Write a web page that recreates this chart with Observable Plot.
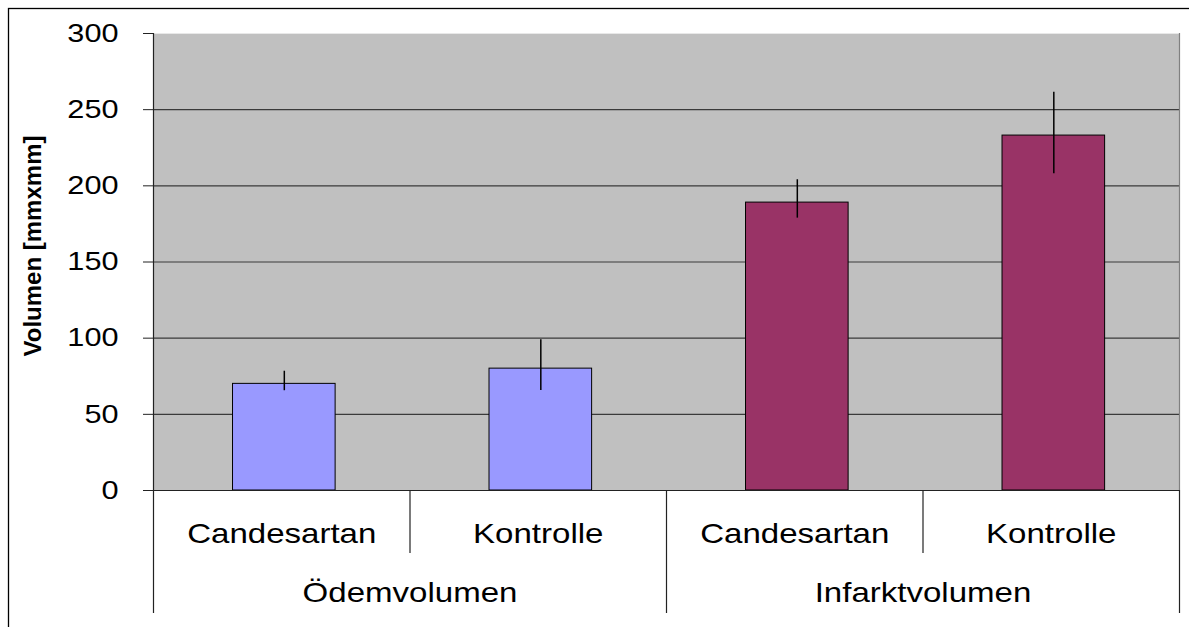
<!DOCTYPE html>
<html>
<head>
<meta charset="utf-8">
<script src="https://cdn.jsdelivr.net/npm/d3@7"></script>
<script src="https://cdn.jsdelivr.net/npm/@observablehq/plot@0.6"></script>
<style>
  html, body { margin: 0; padding: 0; background: white; overflow: hidden; }
</style>
</head>
<body>
<script>
// ---- data ----
const groups = ["Ödemvolumen", "Ödemvolumen", "Infarktvolumen", "Infarktvolumen"];
const treatments = ["Candesartan", "Kontrolle", "Candesartan", "Kontrolle"];
const values = [70, 80, 189, 233];
const errLow = [65.5, 65.7, 178.8, 208];
const errHigh = [78.3, 99, 204, 261.5];
const groupNames = ["Ödemvolumen", "Infarktvolumen"];
const yTicks = [0, 50, 100, 150, 200, 250, 300];
const colors = {"Ödemvolumen": "#9999FF", "Infarktvolumen": "#993366"};
const yLabel = "Volumen [mmxmm]";

const rows = values.map((v, i) => ({
  i, group: groups[i], treatment: treatments[i], value: v, low: errLow[i], high: errHigh[i]
}));

const plot = Plot.plot({
  width: 1189,
  height: 627,
  marginLeft: 153,
  marginRight: 10,
  marginTop: 33,
  marginBottom: 137,
  style: {fontFamily: "'Liberation Sans', Arial, sans-serif", background: "white", color: "black"},
  x: {domain: [0, 4], axis: null},
  y: {domain: [0, 300], axis: null},
  marks: [
    // outer chart border
    Plot.frame({stroke: "#000", strokeWidth: 1.3, insetLeft: -145, insetTop: -25, insetRight: -30, insetBottom: -160}),
    // plot area
    Plot.frame({fill: "#C0C0C0"}),
    Plot.ruleY(yTicks.filter(d => d > 0 && d < 300), {stroke: "#3a3a3a", strokeWidth: 1.2}),
    Plot.ruleY([300], {stroke: "#e8e8e8", strokeWidth: 1.2}),
    Plot.ruleX([4], {stroke: "#808080", strokeWidth: 1.2}),
    // bars
    Plot.rectY(rows, {
      x1: d => d.i + 0.31, x2: d => d.i + 0.71, y1: 0, y2: "value",
      fill: d => colors[d.group], stroke: "#000", strokeWidth: 1
    }),
    // error bars
    Plot.ruleX(rows, {x: d => d.i + 0.51, y1: "low", y2: "high", stroke: "#000", strokeWidth: 1.5}),
    // y axis
    Plot.axisY({ticks: yTicks, tickSize: 10, tickPadding: 25, fontSize: 26, label: null, stroke: "#222"}),
    Plot.ruleX([0], {stroke: "#222", strokeWidth: 1.2, insetBottom: -123}),
    Plot.ruleY([0], {stroke: "#222", strokeWidth: 1.2, insetLeft: -10}),
    // category table dividers
    Plot.ruleX([2, 4], {stroke: "#222", strokeWidth: 1.2, insetTop: 457, insetBottom: -123}),
    Plot.ruleX([1, 3], {stroke: "#222", strokeWidth: 1.2, insetTop: 457, insetBottom: -63}),
    // category labels
    Plot.text(rows, {x: d => d.i + 0.5, text: "treatment", frameAnchor: "bottom", lineAnchor: "middle", textAnchor: "middle", dy: 44, fontSize: 28, fill: "#000"}),
    Plot.text(groupNames, {x: (d, i) => 2 * i + 1, text: d => d, frameAnchor: "bottom", lineAnchor: "middle", textAnchor: "middle", dy: 103, fontSize: 28, fill: "#000"}),
    // y label
    Plot.text([yLabel], {frameAnchor: "left", textAnchor: "middle", lineAnchor: "middle", dx: -120, dy: -16, rotate: -90, fontWeight: "bold", fontSize: 24, fill: "#000"})
  ]
});

document.body.append(plot);

// horizontally stretched text, as in the reference rendering
const stretch = 1.18;
plot.querySelectorAll("text").forEach(t => {
  if (t.textContent === yLabel) return;
  const w = t.getComputedTextLength();
  if (w > 0) {
    t.setAttribute("textLength", (w * stretch).toFixed(1));
    t.setAttribute("lengthAdjust", "spacingAndGlyphs");
  }
});
</script>
</body>
</html>
